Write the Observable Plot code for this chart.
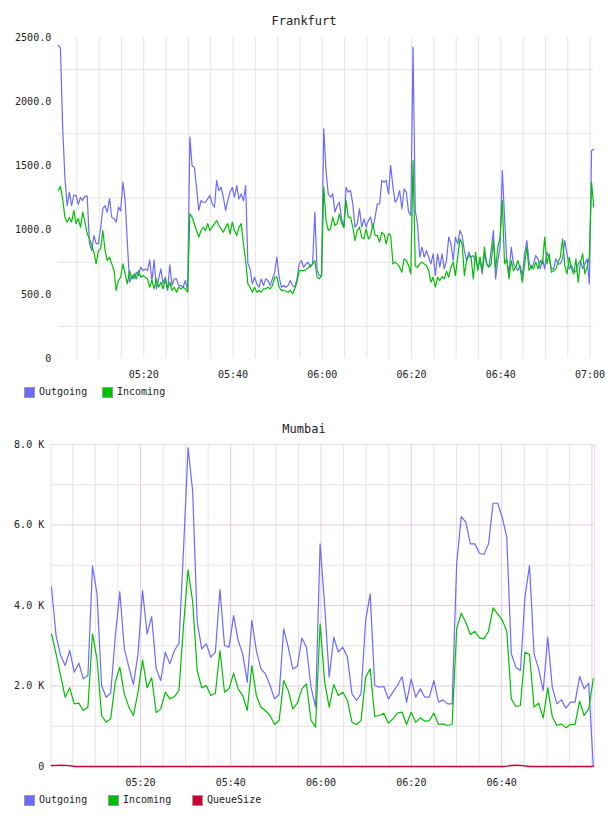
<!DOCTYPE html>
<html>
<head>
<meta charset="utf-8">
<script src="https://cdn.jsdelivr.net/npm/d3@7"></script>
<script src="https://cdn.jsdelivr.net/npm/@observablehq/plot@0.6"></script>
<style>
  body { margin: 0; background: #fff; font-family: "DejaVu Sans Mono", monospace; color: #222; }
  #wrap { position: relative; width: 608px; height: 816px; overflow: hidden; }
  .chart { position: absolute; left: 0; }
  .title { position: absolute; left: 0; width: 608px; text-align: center; font-size: 12px; line-height: 14px; color: #222; }
  .lg { position: absolute; font-size: 10px; line-height: 12px; white-space: nowrap; }
  .sw { position: absolute; width: 9px; height: 9px; border: 1px solid #999; }
</style>
</head>
<body>
<div id="wrap"></div>
<script>
// ---------------- DATA ----------------
const day = "2024-01-01T";

// Frankfurt: samples every 30 s
const fraStartTime = "05:00:50";
const fraEndTime = "07:00:50";
const fraStepSeconds = 30;
const fraSeries = ["Outgoing", "Incoming"];
const fraOutgoing = [
 2440,2420,1800,1410,1190,1295,1190,1270,1270,1200,
 1255,1230,1265,1265,895,840,958,895,895,1012,
 1168,1190,1140,1246,1100,1090,1062,1180,1150,1373,
 1230,895,594,646,620,672,646,711,685,698,
 685,768,607,768,543,620,698,581,633,530,
 730,568,620,620,568,568,555,607,530,1724,
 1500,1490,1330,1153,1230,1217,1217,1243,1270,1204,
 1178,1386,1308,1334,1256,1153,1230,1295,1334,1256,
 1347,1243,1282,1230,1347,737,698,581,633,581,
 555,620,568,620,607,568,620,672,789,633,
 555,568,555,568,607,568,555,620,737,763,
 711,737,750,711,737,1140,685,646,646,1790,
 1464,1282,1256,1282,1140,1191,1217,1088,1023,1334,
 1295,1308,1204,1023,1049,1166,1023,1088,1023,1075,
 1101,1010,1101,1204,1204,1386,1373,1386,1282,1503,
 1334,1217,1243,1308,1166,1321,1295,1140,1114,2425,
 1150,1049,789,867,789,841,789,737,815,646,
 815,711,815,698,763,945,893,763,945,893,
 997,958,841,763,828,789,802,763,711,763,
 659,815,737,711,841,997,620,763,867,1464,
 1101,763,659,867,737,711,685,724,646,815,
 919,750,698,737,802,776,698,776,698,828,
 776,698,698,776,737,737,776,919,815,698,
 724,685,672,737,763,698,737,776,581,1620,1630
];
const fraIncoming = [
 1308,1340,1244,1100,1062,1100,1062,1153,1050,1090,
 1023,1140,1062,971,932,880,828,737,840,854,
 997,840,763,789,737,685,530,607,633,737,
 659,581,685,620,659,620,685,633,646,633,
 620,555,607,543,620,555,594,543,620,543,
 594,530,555,516,555,543,555,543,516,1127,
 1100,1050,997,945,997,1023,997,1050,997,1023,
 1050,1075,1036,1010,984,1023,1050,971,1062,997,
 958,1023,1050,893,763,581,555,516,555,516,
 530,516,543,543,555,543,568,633,633,555,
 530,530,524,516,530,504,543,594,685,685,
 685,690,706,724,737,763,633,620,646,1334,
 1075,997,1010,1101,1036,1049,1127,1054,1018,1230,
 1101,1101,1023,919,997,1023,945,932,1010,932,
 958,1049,958,958,906,984,966,893,971,958,
 737,750,737,711,672,776,763,724,659,1542,
 720,711,737,750,737,724,685,594,633,555,
 633,607,638,620,680,633,711,750,646,789,
 932,893,646,763,802,789,620,828,685,789,
 685,867,737,711,737,919,698,867,945,1230,
 737,776,620,763,685,711,763,698,594,737,
 867,685,724,698,750,698,763,737,945,737,
 815,672,685,698,750,789,932,724,659,789,
 698,659,776,594,750,815,659,711,789,1373,1180
];
const fraXTickLabels = ["05:20","05:40","06:00","06:20","06:40","07:00"];
const fraYTicks = [0, 500, 1000, 1500, 2000, 2500];
const fraYGrid = [250, 750, 1250, 1750, 2250];

// Mumbai: samples roughly every 60.5 s
const mumStartTime = "05:00:18";
const mumDomainStart = "05:00:14";
const mumDomainEnd = "07:00:34";
const mumStepSeconds = 60.5;
const mumSeries = ["Outgoing", "Incoming", "QueueSize"];
const mumOutgoing = [
 4455,3254,2757,2509,2881,2343,2566,2177,2260,4980,
 4290,2012,1722,1821,3212,4347,2922,2468,2037,2798,
 4372,3296,3726,2426,2136,2840,2550,2881,3063,5400,
 7920,6850,3600,2922,3047,2716,2840,4397,3006,2964,
 3750,3130,2798,2095,3626,2881,2426,2301,2012,1680,
 1788,3419,2964,2426,2484,3190,2964,1971,1474,5531,
 4000,2219,3212,2840,2964,2716,1805,1640,1805,3626,
 4289,2012,1971,1987,1680,1846,2012,2235,1598,2177,
 1722,1929,1722,1722,2136,1598,1656,1556,1556,5034,
 6210,6070,5531,5531,5299,5266,5531,6541,6541,6193,
 5697,2800,2468,2385,4206,4993,2798,2426,1888,3212,
 1971,1557,1656,1449,1598,1598,2235,1929,2070,0
];
const mumIncoming = [
 3295,2798,2260,1722,1954,1557,1573,1391,1474,3295,
 2674,1267,1101,1184,2095,2468,1805,1474,1267,1846,
 2649,1954,2202,1341,1432,1846,1680,1738,1888,3500,
 4885,4100,2384,1954,2012,1763,1821,2881,1846,1929,
 2318,1929,1763,1391,2509,1763,1474,1391,1267,1043,
 1142,2136,1888,1432,1573,1929,2053,1142,977,3543,
 2095,1474,2037,1763,1846,1640,1101,1043,1142,2219,
 2426,1242,1267,1325,1076,1184,1325,1349,1043,1349,
 1101,1209,1126,1142,1325,1043,1059,1018,1043,3419,
 3808,3585,3279,3361,3196,3171,3361,3941,3792,3643,
 3361,1680,1490,1515,2840,2782,1474,1573,1209,1954,
 1242,1018,1059,960,1043,1043,1623,1267,1432,2177
];
const mumQueueSize = [
 25,30,35,30,20,0,0,0,0,0,
 0,0,0,0,0,0,0,0,0,0,
 0,0,0,0,0,0,0,0,0,0,
 0,0,0,0,0,0,0,0,0,0,
 0,0,0,0,0,0,0,0,0,0,
 0,0,0,0,0,0,0,0,0,0,
 0,0,0,0,0,0,0,0,0,0,
 0,0,0,0,0,0,0,0,0,0,
 0,0,0,0,0,0,0,0,0,0,
 0,0,0,0,0,0,0,0,0,0,
 10,25,35,30,15,0,0,0,0,0,
 0,0,0,0,0,0,0,0,0,0
];
const mumXTickLabels = ["05:20","05:40","06:00","06:20","06:40"];
const mumYTicks = [0, 2000, 4000, 6000, 8000];
const mumYMinorGrid = [1000, 3000, 5000, 7000];

const colors = { Outgoing: "#6b6bff", Incoming: "#00c000", QueueSize: "#cc0033" };

// ---------------- BUILD ----------------
const T = s => new Date(day + s + "Z");
const hm = d3.utcFormat("%H:%M");

const fraStart = T(fraStartTime);
const fraRows = fraOutgoing.map((v, i) => ({
  t: new Date(+fraStart + i * fraStepSeconds * 1000), Outgoing: v, Incoming: fraIncoming[i]
}));
const fraDomain = [fraStart, T(fraEndTime)];
const fraGridX = d3.utcMinute.every(5).range(fraDomain[0], fraDomain[1]);

const mumStart = T(mumStartTime);
const mumRows = mumOutgoing.map((v, i) => ({
  t: new Date(+mumStart + i * mumStepSeconds * 1000), Outgoing: v, Incoming: mumIncoming[i], QueueSize: mumQueueSize[i]
}));
const mumDomain = [T(mumDomainStart), T(mumDomainEnd)];
const mumGridAll = d3.utcMinute.every(5).range(mumDomain[0], mumDomain[1]);
const mumGridMajor = mumGridAll.filter(d => d.getUTCMinutes() % 20 === 0);
const mumGridMinor = mumGridAll.filter(d => d.getUTCMinutes() % 20 !== 0);

const wrap = document.getElementById("wrap");
const axisStyle = { fontFamily: "DejaVu Sans Mono, monospace", fontSize: "10px", color: "#222", background: "transparent", overflow: "visible" };

const fra = Plot.plot({
  width: 608, height: 385,
  marginTop: 37, marginBottom: 27, marginLeft: 57.7, marginRight: 14.7,
  style: axisStyle,
  x: { type: "utc", domain: fraDomain, ticks: fraXTickLabels.map(T), tickFormat: hm, tickSize: 0, tickPadding: 12, label: null },
  y: { domain: [0, 2500], ticks: fraYTicks, tickFormat: d => d === 0 ? "0" : d.toFixed(1), tickSize: 0, tickPadding: 7, label: null },
  marks: [
    Plot.ruleY(fraYGrid, { stroke: "#e4e4e4" }),
    Plot.ruleX(fraGridX, { stroke: "#e4e4e4" }),
    Plot.line(fraRows, { x: "t", y: "Outgoing", stroke: colors.Outgoing, strokeWidth: 1.2 }),
    Plot.line(fraRows, { x: "t", y: "Incoming", stroke: colors.Incoming, strokeWidth: 1.2 })
  ]
});
const fraDiv = document.createElement("div");
fraDiv.className = "chart"; fraDiv.style.top = "0px";
fraDiv.appendChild(fra);
wrap.appendChild(fraDiv);

const mum = Plot.plot({
  width: 608, height: 400,
  marginTop: 44, marginBottom: 34, marginLeft: 50.7, marginRight: 14,
  style: axisStyle,
  x: { type: "utc", domain: mumDomain, ticks: mumXTickLabels.map(T), tickFormat: hm, tickSize: 0, tickPadding: 12, label: null },
  y: { domain: [0, 8000], ticks: mumYTicks, tickFormat: d => d === 0 ? "0" : (d / 1000).toFixed(1) + " K", tickSize: 0, tickPadding: 7, label: null },
  marks: [
    Plot.ruleY(mumYMinorGrid, { stroke: "#e8e2e8" }),
    Plot.ruleX(mumGridMinor, { stroke: "#e8e2e8" }),
    Plot.ruleY(mumYTicks, { stroke: "#e2cce2" }),
    Plot.ruleX(mumGridMajor, { stroke: "#e2cce2" }),
    Plot.frame({ stroke: "#ecdcec" }),
    Plot.line(mumRows, { x: "t", y: "Outgoing", stroke: colors.Outgoing, strokeWidth: 1.2 }),
    Plot.line(mumRows, { x: "t", y: "Incoming", stroke: colors.Incoming, strokeWidth: 1.2 }),
    Plot.line(mumRows, { x: "t", y: "QueueSize", stroke: colors.QueueSize, strokeWidth: 1.3 })
  ]
});
const mumDiv = document.createElement("div");
mumDiv.className = "chart"; mumDiv.style.top = "400px";
mumDiv.appendChild(mum);
wrap.appendChild(mumDiv);

// Titles
function addTitle(text, top) {
  const t = document.createElement("div");
  t.className = "title"; t.textContent = text; t.style.top = top + "px";
  wrap.appendChild(t);
}
addTitle("Frankfurt", 13.5);
addTitle("Mumbai", 421.5);

// Legends
function addLegend(names, xs, centerY) {
  names.forEach((n, i) => {
    const sw = document.createElement("div");
    sw.className = "sw";
    sw.style.left = xs[i] + "px"; sw.style.top = (centerY - 5.5) + "px";
    sw.style.background = colors[n];
    wrap.appendChild(sw);
    const lb = document.createElement("div");
    lb.className = "lg"; lb.textContent = n;
    lb.style.left = (xs[i] + 15) + "px"; lb.style.top = (centerY - 6) + "px";
    wrap.appendChild(lb);
  });
}
addLegend(fraSeries, [24, 102], 392);
addLegend(mumSeries, [24, 108, 192], 800);
</script>
</body>
</html>
